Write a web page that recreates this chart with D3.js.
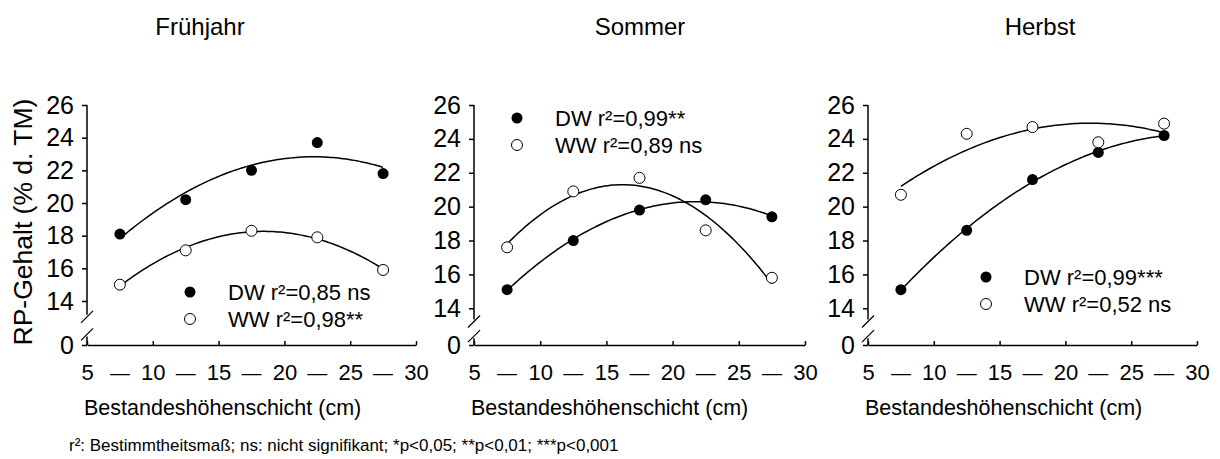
<!DOCTYPE html>
<html><head><meta charset="utf-8">
<script src="https://cdn.jsdelivr.net/npm/d3@7/dist/d3.min.js"></script>
<style>
body{margin:0;background:#fff}
svg{display:block}
text{font-family:"Liberation Sans",Arial,sans-serif;fill:#000}
</style>
</head><body><svg id="c" width="1220" height="459"></svg>
<script>
// ---- data ----
const seasons = ["Frühjahr", "Sommer", "Herbst"];
const layerMid = [7.5, 12.5, 17.5, 22.5, 27.5];
const xTickValues = [5, 10, 15, 20, 25, 30];
const yTickValues = [0, 14, 16, 18, 20, 22, 24, 26];
const dwFruehjahr = [18.1, 20.2, 22.0, 23.7, 21.8];
const wwFruehjahr = [15.0, 17.1, 18.3, 17.9, 15.9];
const dwSommer = [15.1, 18.0, 19.8, 20.4, 19.4];
const wwSommer = [17.6, 20.9, 21.7, 18.6, 15.8];
const dwHerbst = [15.1, 18.6, 21.6, 23.2, 24.2];
const wwHerbst = [20.7, 24.3, 24.7, 23.8, 24.9];
const legendDW = ["DW r²=0,85 ns", "DW r²=0,99**", "DW r²=0,99***"];
const legendWW = ["WW r²=0,98**", "WW r²=0,89 ns", "WW r²=0,52 ns"];
const xLabel = "Bestandeshöhenschicht (cm)";
const yLabel = "RP-Gehalt (% d. TM)";
const footnote = "r²: Bestimmtheitsmaß; ns: nicht signifikant; *p<0,05; **p<0,01; ***p<0,001";

const dwAll = [dwFruehjahr, dwSommer, dwHerbst];
const wwAll = [wwFruehjahr, wwSommer, wwHerbst];

// ---- layout ----
const layout = [
  {x0: 87, x1: 416, y14: 301, titleX: 200, lx: 190, ly: 292},
  {x0: 474, x1: 805, y14: 308.3, titleX: 640, lx: 517, ly: 118},
  {x0: 868, x1: 1197, y14: 308.3, titleX: 1040, lx: 986, ly: 277}
];
const yTop = 105, yZero = 345;

function quadFit(xs, ys) {
  // least squares y = a + b x + c x^2
  let S = [[0,0,0],[0,0,0],[0,0,0]], T = [0,0,0];
  xs.forEach((x, i) => {
    const p = [1, x, x*x];
    for (let r = 0; r < 3; r++) { T[r] += p[r]*ys[i]; for (let c = 0; c < 3; c++) S[r][c] += p[r]*p[c]; }
  });
  const M = S.map((row, i) => row.concat([T[i]]));
  for (let i = 0; i < 3; i++) {
    let piv = i; for (let k = i+1; k < 3; k++) if (Math.abs(M[k][i]) > Math.abs(M[piv][i])) piv = k;
    [M[i], M[piv]] = [M[piv], M[i]];
    for (let k = 0; k < 3; k++) if (k !== i) { const f = M[k][i]/M[i][i]; for (let j = i; j < 4; j++) M[k][j] -= f*M[i][j]; }
  }
  const coef = M.map((r, i) => r[3]/r[i]);
  return x => coef[0] + coef[1]*x + coef[2]*x*x;
}

const svg = d3.select("#c");

seasons.forEach((season, si) => {
  const L = layout[si];
  const x = d3.scaleLinear().domain([5, 30]).range([L.x0, L.x1]);
  const y = d3.scaleLinear().domain([0, 14, 26]).range([yZero, L.y14, yTop]);
  const g = svg.append("g");

  // title
  g.append("text").attr("x", L.titleX).attr("y", 35).attr("text-anchor", "middle")
    .attr("font-size", 24).text(season);

  // y axis
  const ya = g.append("g").attr("transform", `translate(${L.x0},0)`)
    .call(d3.axisLeft(y).tickValues(yTickValues).tickSize(5).tickPadding(8).tickFormat(d3.format("d")));
  ya.select(".domain").remove();
  ya.selectAll(".tick line").attr("stroke", "#000").attr("stroke-width", 1.5);
  ya.selectAll(".tick text").attr("font-size", 25).attr("font-family", "Liberation Sans, Arial, sans-serif").attr("fill", "#000");

  const gap = yZero - L.y14;
  const b1 = L.y14 + 0.36*gap, b2 = L.y14 + 0.76*gap;
  g.append("line").attr("x1", L.x0).attr("x2", L.x0).attr("y1", yTop).attr("y2", b1 - 2)
    .attr("stroke", "#000").attr("stroke-width", 1.5);
  g.append("line").attr("x1", L.x0).attr("x2", L.x0).attr("y1", b2 + 2).attr("y2", yZero)
    .attr("stroke", "#000").attr("stroke-width", 1.5);
  [b1, b2].forEach(b => {
    g.append("line").attr("x1", L.x0 - 6).attr("y1", b + 6).attr("x2", L.x0 + 6).attr("y2", b - 6)
      .attr("stroke", "#000").attr("stroke-width", 1.2);
  });

  // x axis
  const xa = g.append("g").attr("transform", `translate(0,${yZero})`)
    .call(d3.axisBottom(x).tickValues(xTickValues).tickSizeInner(-4).tickSizeOuter(0).tickPadding(19));
  xa.select(".domain").attr("stroke", "#000").attr("stroke-width", 1.5);
  xa.selectAll(".tick line").attr("stroke", "#000").attr("stroke-width", 1.5);
  xa.selectAll(".tick text").attr("font-size", 22).attr("font-family", "Liberation Sans, Arial, sans-serif").attr("fill", "#000");
  g.selectAll("text.dash").data(layerMid).enter().append("text").attr("class", "dash")
    .attr("x", d => x(d)).attr("y", 380).attr("text-anchor", "middle").attr("font-size", 20).text("—");

  g.append("text").attr("x", L.x0 - 3).attr("y", 415).attr("font-size", 21.5).text(xLabel);

  // fits
  const line = d3.line().x(d => x(d[0])).y(d => y(d[1]));
  [dwAll[si], wwAll[si]].forEach(vals => {
    const f = quadFit(layerMid, vals);
    const pts = d3.range(0, 101).map(i => { const xv = layerMid[0] + (layerMid[4]-layerMid[0])*i/100; return [xv, f(xv)]; });
    g.append("path").attr("d", line(pts)).attr("fill", "none").attr("stroke", "#000").attr("stroke-width", 1.5);
  });

  // points
  g.selectAll("circle.dw").data(dwAll[si]).enter().append("circle").attr("class", "dw")
    .attr("cx", (d, i) => x(layerMid[i])).attr("cy", d => y(d)).attr("r", 5.5).attr("fill", "#000");
  g.selectAll("circle.ww").data(wwAll[si]).enter().append("circle").attr("class", "ww")
    .attr("cx", (d, i) => x(layerMid[i])).attr("cy", d => y(d)).attr("r", 5.5).attr("fill", "#fff")
    .attr("stroke", "#000").attr("stroke-width", 1);

  // legend
  g.append("circle").attr("cx", L.lx).attr("cy", L.ly).attr("r", 5.5).attr("fill", "#000");
  g.append("circle").attr("cx", L.lx).attr("cy", L.ly + 27).attr("r", 5.5).attr("fill", "#fff").attr("stroke", "#000");
  g.append("text").attr("x", L.lx + 38).attr("y", L.ly + 8).attr("font-size", 22).text(legendDW[si]);
  g.append("text").attr("x", L.lx + 38).attr("y", L.ly + 35).attr("font-size", 22).text(legendWW[si]);
});

// y label
svg.append("text").attr("transform", "translate(32,222) rotate(-90)").attr("text-anchor", "middle")
  .attr("font-size", 26.5).text(yLabel);

// footnote
svg.append("text").attr("x", 69).attr("y", 451).attr("font-size", 17).text(footnote);
</script>
</body></html>
